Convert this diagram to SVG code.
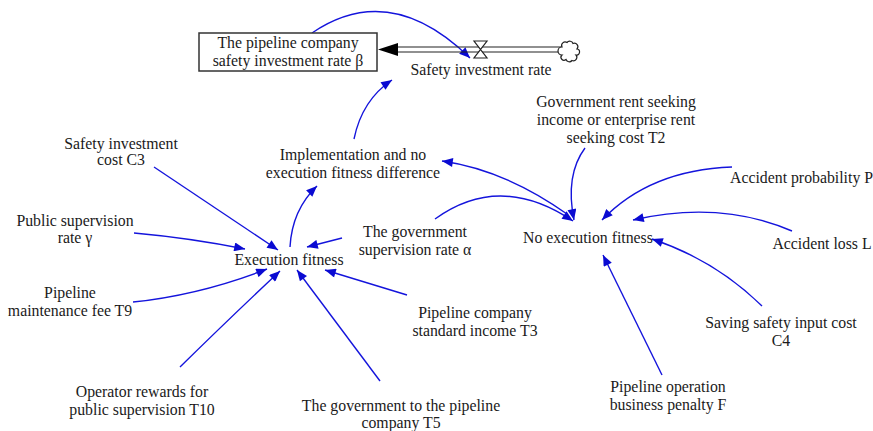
<svg xmlns="http://www.w3.org/2000/svg" width="873" height="431" viewBox="0 0 873 431">
<style>
text{font-family:"Liberation Serif","Times New Roman",serif;font-size:15.8px;fill:#1a1a1a;text-anchor:middle}
.l{fill:none;stroke:#1414dc;stroke-width:1.4}
.p{fill:none;stroke:#222;stroke-width:1.2}
</style>
<defs>
<marker id="a" viewBox="0 0 12 10" refX="12" refY="5" markerWidth="13" markerHeight="9" markerUnits="userSpaceOnUse" orient="auto">
<path d="M0,0 L12,5 L0,10 Z" fill="#0a0ad2"/>
</marker>
</defs>
<rect width="873" height="431" fill="#fff"/>

<g id="connectors">
<path class="l" marker-end="url(#a)" d="M312,33 Q390,-20 470,58"/>
<path class="l" marker-end="url(#a)" d="M354,139 Q362,100 392,80"/>
<path class="l" marker-end="url(#a)" d="M290,247 Q292,210 317,186"/>
<path class="l" marker-end="url(#a)" d="M154,167 L278,250"/>
<path class="l" marker-end="url(#a)" d="M134,233 Q190,238 245,249"/>
<path class="l" marker-end="url(#a)" d="M133,302 Q200,295 267,269"/>
<path class="l" marker-end="url(#a)" d="M180,367 Q232,316 280,271"/>
<path class="l" marker-end="url(#a)" d="M380,381 L297,270"/>
<path class="l" marker-end="url(#a)" d="M407,295 L325,270"/>
<path class="l" marker-end="url(#a)" d="M342,238 L307,247"/>
<path class="l" marker-end="url(#a)" d="M435,219 Q500,172 573,221"/>
<path class="l" marker-end="url(#a)" d="M567,214 Q505,170 442,161"/>
<path class="l" marker-end="url(#a)" d="M585,148 Q565,175 574,220"/>
<path class="l" marker-end="url(#a)" d="M732,167 Q650,170 602,220"/>
<path class="l" marker-end="url(#a)" d="M792,231 Q720,200 633,220"/>
<path class="l" marker-end="url(#a)" d="M762,306 Q715,260 652,239"/>
<path class="l" marker-end="url(#a)" d="M662,375 Q625,300 603,255"/>
</g>

<g id="flow">
<line class="p" x1="396" y1="47" x2="562" y2="47"/>
<line class="p" x1="396" y1="52" x2="562" y2="52"/>
<path d="M378,49.5 L398,43 L398,56 Z" fill="#000"/>
<path d="M474,41 L487,41 L474,58 L487,58 Z" fill="#fff" stroke="#222" stroke-width="1.2"/>
<path d="M562,47 A3.5,3.5 0 0 1 567,42.5 A3.5,3.5 0 0 1 573,43.5 A3.5,3.5 0 0 1 577,49 A3,3 0 0 1 576,55 A3.5,3.5 0 0 1 572,60.5 A3.5,3.5 0 0 1 566,59.5 A3,3 0 0 1 562,55 A3,3 0 0 1 562,47 Z" fill="#fff" stroke="#222" stroke-width="1.2"/>
</g>

<g id="stock">
<rect x="199" y="33" width="178" height="38" fill="#fff" stroke="#333" stroke-width="1.5"/>
<text x="288" y="48">The pipeline company</text>
<text x="288" y="66">safety investment rate β</text>
</g>
<g id="safety-investment-rate"><text x="481" y="75">Safety investment rate</text></g>
<g id="implementation"><text x="353" y="160">Implementation and no</text><text x="353" y="178">execution fitness difference</text></g>
<g id="execution-fitness"><text x="289" y="265">Execution fitness</text></g>
<g id="no-execution-fitness"><text x="588" y="243">No execution fitness</text></g>
<g id="c3"><text x="121" y="149">Safety investment</text><text x="121" y="165">cost C3</text></g>
<g id="gamma"><text x="75" y="226">Public supervision</text><text x="75" y="243">rate γ</text></g>
<g id="t9"><text x="70" y="298">Pipeline</text><text x="70" y="316">maintenance fee T9</text></g>
<g id="alpha"><text x="415" y="237">The government</text><text x="415" y="255">supervision rate α</text></g>
<g id="t3"><text x="475" y="318">Pipeline company</text><text x="475" y="336">standard income T3</text></g>
<g id="t10"><text x="142" y="397">Operator rewards for</text><text x="142" y="415">public supervision T10</text></g>
<g id="t5"><text x="401" y="411">The government to the pipeline</text><text x="401" y="428">company T5</text></g>
<g id="t2"><text x="616" y="107">Government rent seeking</text><text x="616" y="125">income or enterprise rent</text><text x="616" y="143">seeking cost T2</text></g>
<g id="p"><text x="730" y="183" style="text-anchor:start">Accident probability P</text></g>
<g id="l"><text x="822" y="249">Accident loss L</text></g>
<g id="c4"><text x="781" y="328">Saving safety input cost</text><text x="781" y="346">C4</text></g>
<g id="f"><text x="668" y="392">Pipeline operation</text><text x="668" y="410">business penalty F</text></g>
</svg>
